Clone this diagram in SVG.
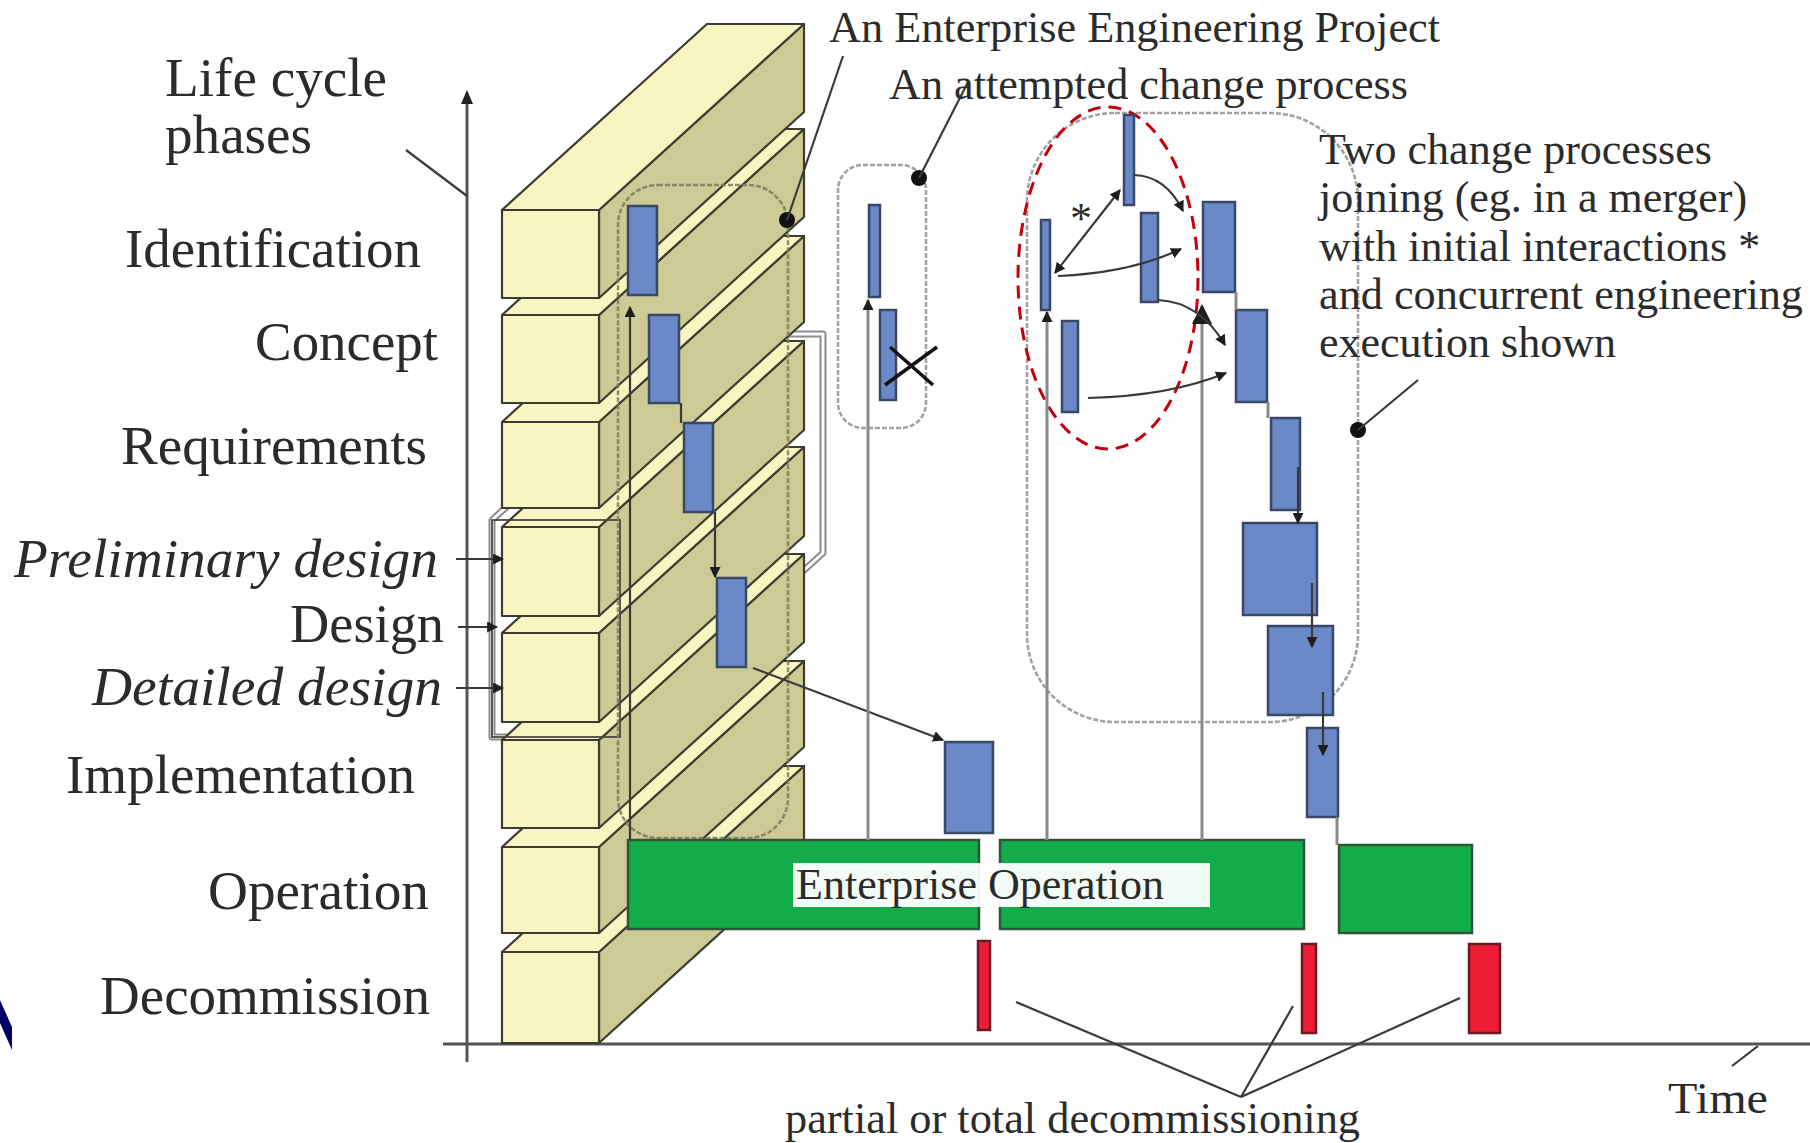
<svg xmlns="http://www.w3.org/2000/svg" width="1810" height="1143" viewBox="0 0 1810 1143">
<style>
.lbl{font-family:"Liberation Serif","Times New Roman",serif;font-size:55px;fill:#2b2b2b}
.it{font-style:italic}
.note{font-family:"Liberation Serif","Times New Roman",serif;font-size:44px;fill:#2b2b2b}
.front{fill:#f9f5c1;stroke:#3e3c30;stroke-width:2.2;stroke-linejoin:round}
.side{fill:#cdca95;stroke:#3e3c30;stroke-width:2.2;stroke-linejoin:round}
.top{fill:#f9f5c1;stroke:#3e3c30;stroke-width:2.2;stroke-linejoin:round}
.blue{fill:#6b89c6;stroke:#3a4868;stroke-width:2.5}
.green{fill:#12ad4a;stroke:#2e5537;stroke-width:2.5}
.red{fill:#ee1c34;stroke:#6a1a22;stroke-width:2.5}
.ln{stroke:#3a3a3a;stroke-width:2.2;fill:none}
.gl{stroke:#8a8a8a;stroke-width:3;fill:none}
.axis{stroke:#555;stroke-width:3;fill:none}
.dash{fill:none;stroke:#a2a2a2;stroke-width:2.6;stroke-dasharray:5 2}
</style>
<defs>
<marker id="arr" viewBox="0 0 10 10" refX="9" refY="5" markerWidth="11" markerHeight="11" markerUnits="userSpaceOnUse" orient="auto-start-reverse">
<path d="M0,0 L10,5 L0,10 z" fill="#1e1e1e"/>
</marker>
<marker id="arrBig" viewBox="0 0 10 10" refX="9" refY="5" markerWidth="20" markerHeight="20" markerUnits="userSpaceOnUse" orient="auto">
<path d="M0,0 L10,5 L0,10 z" fill="#1e1e1e"/>
</marker>
</defs>
<rect x="0" y="0" width="1810" height="1143" fill="#ffffff"/>

<!-- navy fragment at left edge -->
<polygon points="0,1000 12,1027 12,1050 0,1023" fill="#000066"/>

<!-- axes -->
<g id="axes">
<line class="axis" x1="467" y1="1062" x2="467" y2="100"/>
<path d="M467,90 L461,104 L473,104 z" fill="#222"/>
<line class="axis" x1="443" y1="1044" x2="1810" y2="1044"/>
<line class="ln" x1="406" y1="150" x2="467" y2="196"/>
<line class="ln" x1="1732" y1="1066" x2="1758" y2="1046"/>
</g>

<!-- design frame behind the wall -->
<g id="design-frame">
<polygon points="492,520 697,334 823,334 823,553 620,737 492,737" fill="none" stroke="#8c8c8c" stroke-width="7" stroke-linejoin="round"/>
<polygon points="492,520 697,334 823,334 823,553 620,737 492,737" fill="none" stroke="#ffffff" stroke-width="3" stroke-linejoin="round"/>
</g>

<!-- wall of life cycle phases -->
<g id="wall">
<g id="slab-decommission">
<polygon class="side" points="599,952 804,766 804,857 599,1043"/>
<polygon class="top" points="502,952 707,766 804,766 599,952"/>
<rect class="front" x="502" y="952" width="97" height="91"/>
</g>
<g id="slab-operation">
<polygon class="side" points="599,847 804,661 804,747 599,933"/>
<polygon class="top" points="502,847 707,661 804,661 599,847"/>
<rect class="front" x="502" y="847" width="97" height="86"/>
</g>
<g id="slab-implementation">
<polygon class="side" points="599,740 804,554 804,642 599,828"/>
<polygon class="top" points="502,740 707,554 804,554 599,740"/>
<rect class="front" x="502" y="740" width="97" height="88"/>
</g>
<g id="slab-detailed-design">
<polygon class="side" points="599,633 804,447 804,536 599,722"/>
<polygon class="top" points="502,633 707,447 804,447 599,633"/>
<rect class="front" x="502" y="633" width="97" height="89"/>
</g>
<g id="slab-preliminary-design">
<polygon class="side" points="599,527 804,341 804,430 599,616"/>
<polygon class="top" points="502,527 707,341 804,341 599,527"/>
<rect class="front" x="502" y="527" width="97" height="89"/>
</g>
<g id="slab-requirements">
<polygon class="side" points="599,422 804,236 804,322 599,508"/>
<polygon class="top" points="502,422 707,236 804,236 599,422"/>
<rect class="front" x="502" y="422" width="97" height="86"/>
</g>
<g id="slab-concept">
<polygon class="side" points="599,315 804,129 804,217 599,403"/>
<polygon class="top" points="502,315 707,129 804,129 599,315"/>
<rect class="front" x="502" y="315" width="97" height="88"/>
</g>
<g id="slab-identification">
<polygon class="side" points="599,210 804,24 804,112 599,298"/>
<polygon class="top" points="502,210 707,24 804,24 599,210"/>
<rect class="front" x="502" y="210" width="97" height="88"/>
</g>
</g>

<!-- design frame front edges over the wall -->
<rect x="492" y="520" width="128" height="217" fill="none" stroke="#4a4a40" stroke-width="1.8"/>

<!-- enterprise engineering project boundary -->
<g id="project-boundary">
<rect x="618" y="185" width="170" height="653" rx="40" fill="none" stroke="#7d7b5e" stroke-width="2.5" stroke-dasharray="5 2" opacity="0.85"/>
<circle cx="787" cy="220" r="8" fill="#111"/>
<line class="ln" x1="787" y1="220" x2="843" y2="56"/>
</g>

<!-- original project blocks -->
<g id="project">
<rect class="blue" x="628" y="206" width="29" height="89"/>
<rect class="blue" x="649" y="315" width="30" height="88"/>
<rect class="blue" x="684" y="423" width="29" height="89"/>
<rect class="blue" x="717" y="578" width="29" height="89"/>
<rect class="blue" x="945" y="742" width="48" height="91"/>
</g>

<!-- attempted change process -->
<g id="attempted">
<rect class="dash" x="838" y="165" width="88" height="263" rx="25"/>
<rect class="blue" x="869" y="205" width="11" height="92"/>
<rect class="blue" x="880" y="310" width="16" height="90"/>
<line x1="890" y1="347" x2="933" y2="385" stroke="#111" stroke-width="3.5"/>
<line x1="885" y1="385" x2="937" y2="347" stroke="#111" stroke-width="3.5"/>
<circle cx="919" cy="178" r="8" fill="#111"/>
<line class="ln" x1="919" y1="178" x2="968" y2="82"/>
</g>

<!-- two change processes joining -->
<g id="merger">
<rect class="dash" x="1027" y="113" width="331" height="609" rx="88"/>
<ellipse cx="1108" cy="278" rx="90" ry="171" fill="none" stroke="#c4000c" stroke-width="3" stroke-dasharray="13 8"/>
<rect class="blue" x="1124" y="115" width="10" height="90"/>
<rect class="blue" x="1041" y="220" width="9" height="90"/>
<rect class="blue" x="1141" y="213" width="17" height="89"/>
<rect class="blue" x="1062" y="321" width="16" height="91"/>
<rect class="blue" x="1203" y="202" width="32" height="90"/>
<rect class="blue" x="1236" y="310" width="31" height="92"/>
<rect class="blue" x="1271" y="418" width="29" height="92"/>
<rect class="blue" x="1243" y="523" width="74" height="92"/>
<rect class="blue" x="1268" y="626" width="65" height="89"/>
<rect class="blue" x="1307" y="728" width="31" height="89"/>
<circle cx="1358" cy="430" r="8" fill="#111"/>
<line class="ln" x1="1358" y1="430" x2="1418" y2="380"/>
<text class="note" x="1070" y="233" font-size="30">*</text>
</g>

<!-- enterprise operation and decommissioning -->
<g id="operation">
<rect class="green" x="628" y="840" width="351" height="89"/>
<rect class="green" x="1000" y="840" width="304" height="89"/>
<rect class="green" x="1339" y="845" width="133" height="88"/>
<rect x="793" y="863" width="417" height="44" fill="#ffffff" opacity="0.95"/>
<text class="note" x="796" y="899" textLength="368" lengthAdjust="spacingAndGlyphs">Enterprise Operation</text>
</g>
<g id="decommissioning">
<rect class="red" x="978" y="941" width="12" height="89"/>
<rect class="red" x="1302" y="944" width="14" height="89"/>
<rect class="red" x="1469" y="944" width="31" height="89"/>
</g>

<!-- connectors -->
<g id="connectors">
<line class="ln" x1="630" y1="840" x2="630" y2="307" marker-end="url(#arr)"/>
<line class="ln" x1="681" y1="403" x2="681" y2="423"/>
<line class="ln" x1="715" y1="512" x2="715" y2="577" marker-end="url(#arr)"/>
<line class="ln" x1="753" y1="668" x2="943" y2="740" marker-end="url(#arr)"/>
<line class="gl" x1="868" y1="840" x2="868" y2="300" marker-end="url(#arr)"/>
<line class="gl" x1="1047" y1="840" x2="1047" y2="312" marker-end="url(#arr)"/>
<line class="gl" x1="1202" y1="840" x2="1202" y2="306" marker-end="url(#arrBig)"/>
<line class="ln" x1="1055" y1="273" x2="1120" y2="190" marker-start="url(#arr)" marker-end="url(#arr)"/>
<path class="ln" d="M1134,175 Q1166,176 1183,211" marker-end="url(#arr)"/>
<path class="ln" d="M1058,276 Q1130,273 1181,249" marker-end="url(#arr)"/>
<path class="ln" d="M1158,300 Q1200,302 1225,345" marker-end="url(#arr)"/>
<path class="ln" d="M1088,398 Q1170,396 1226,373" marker-end="url(#arr)"/>
<line class="gl" x1="1236" y1="292" x2="1236" y2="310"/>
<line class="gl" x1="1268" y1="402" x2="1268" y2="418"/>
<line class="ln" x1="1298" y1="467" x2="1298" y2="523" marker-end="url(#arr)"/>
<line class="ln" x1="1312" y1="583" x2="1312" y2="647" marker-end="url(#arr)"/>
<line class="ln" x1="1323" y1="692" x2="1323" y2="755" marker-end="url(#arr)"/>
<line class="gl" x1="1337" y1="817" x2="1337" y2="845"/>
<line class="ln" x1="456" y1="559" x2="503" y2="559" marker-end="url(#arr)"/>
<line class="ln" x1="458" y1="627" x2="497" y2="627" marker-end="url(#arr)"/>
<line class="ln" x1="456" y1="688" x2="503" y2="688" marker-end="url(#arr)"/>
<line class="ln" x1="1016" y1="1002" x2="1241" y2="1097"/>
<line class="ln" x1="1293" y1="1006" x2="1241" y2="1097"/>
<line class="ln" x1="1460" y1="998" x2="1241" y2="1097"/>
</g>

<!-- labels -->
<g id="labels">
<text class="lbl" x="165" y="96" textLength="222" lengthAdjust="spacingAndGlyphs">Life cycle</text>
<text class="lbl" x="165" y="153" textLength="147" lengthAdjust="spacingAndGlyphs">phases</text>
<text class="lbl" x="125" y="267" textLength="296" lengthAdjust="spacingAndGlyphs">Identification</text>
<text class="lbl" x="255" y="360" textLength="183" lengthAdjust="spacingAndGlyphs">Concept</text>
<text class="lbl" x="121" y="464" textLength="306" lengthAdjust="spacingAndGlyphs">Requirements</text>
<text class="lbl it" x="14" y="577" textLength="424" lengthAdjust="spacingAndGlyphs">Preliminary design</text>
<text class="lbl" x="290" y="642" textLength="154" lengthAdjust="spacingAndGlyphs">Design</text>
<text class="lbl it" x="92" y="705" textLength="350" lengthAdjust="spacingAndGlyphs">Detailed design</text>
<text class="lbl" x="66" y="793" textLength="349" lengthAdjust="spacingAndGlyphs">Implementation</text>
<text class="lbl" x="208" y="909" textLength="221" lengthAdjust="spacingAndGlyphs">Operation</text>
<text class="lbl" x="100" y="1014" textLength="330" lengthAdjust="spacingAndGlyphs">Decommission</text>
<text class="note" x="829" y="42" textLength="611" lengthAdjust="spacingAndGlyphs">An Enterprise Engineering Project</text>
<text class="note" x="889" y="99" textLength="519" lengthAdjust="spacingAndGlyphs">An attempted change process</text>
<text class="note" x="1319" y="164">Two change processes</text>
<text class="note" x="1319" y="212">joining (eg. in a merger)</text>
<text class="note" x="1319" y="261">with initial interactions *</text>
<text class="note" x="1319" y="309" textLength="484" lengthAdjust="spacingAndGlyphs">and concurrent engineering</text>
<text class="note" x="1319" y="357">execution shown</text>
<text class="note" x="1668" y="1113" font-size="47" textLength="100" lengthAdjust="spacingAndGlyphs">Time</text>
<text class="note" x="785" y="1133" textLength="575" lengthAdjust="spacingAndGlyphs">partial or total decommissioning</text>
</g>
</svg>
